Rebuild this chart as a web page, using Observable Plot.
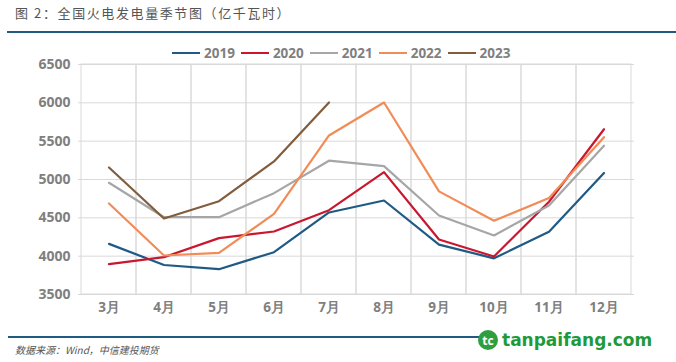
<!DOCTYPE html>
<html><head><meta charset="utf-8">
<script src="https://cdn.jsdelivr.net/npm/d3@7"></script>
<script src="https://cdn.jsdelivr.net/npm/@observablehq/plot@0.6"></script>
<style>
body{margin:0;background:#fff;}
#wrap{position:relative;width:676px;height:362px;overflow:hidden;font-family:"Open Sans","Noto Sans",sans-serif;}
#title{position:absolute;left:15px;top:3px;font-family:"Noto Sans CJK SC";font-size:13px;letter-spacing:1.6px;color:#555;}
#topline{position:absolute;left:7px;right:0;top:31px;height:2px;background:#1f5a80;}
#legend{position:absolute;left:172px;top:44px;display:flex;gap:6px;font-weight:700;font-size:13.5px;color:#7f7f7f;}
#legend span.item{display:flex;align-items:center;gap:4px;}
#legend span.sw{display:inline-block;width:28px;height:2.5px;}
#chart{position:absolute;left:0;top:0;}
#botline{position:absolute;left:8px;width:472px;top:336px;height:2px;background:#1f5a80;}
#source{position:absolute;left:15px;top:342px;font-family:"Noto Sans CJK SC";font-style:italic;font-size:10px;color:#555;}
#logo{position:absolute;left:478px;top:330px;display:flex;align-items:center;gap:4px;}
#logo .ic{width:20px;height:20px;border-radius:50%;background:#2e9e3f;color:#fff;font-weight:700;font-size:12px;display:flex;align-items:center;justify-content:center;}
#logo .tx{font-family:"DejaVu Sans","Open Sans",sans-serif;font-weight:700;font-size:17px;color:#1f9a3a;}
</style></head>
<body>
<div id="wrap">
  <div id="title">图 2：全国火电发电量季节图（亿千瓦时）</div>
  <div id="topline"></div>
  <div id="legend"></div>
  <div id="chart"></div>
  <div id="botline"></div>
  <div id="source">数据来源：Wind，中信建投期货</div>
  <div id="logo"><div class="ic">tc</div><div class="tx">tanpaifang.com</div></div>
</div>
<script>
const months = ["3月","4月","5月","6月","7月","8月","9月","10月","11月","12月"];
const years = ["2019","2020","2021","2022","2023"];
const colors = ["#1f5a85","#c8172f","#a6a6a6","#f28c57","#835c3b"];
const v2019 = [4160, 3885, 3830, 4052, 4570, 4726, 4150, 3972, 4317, 5085];
const v2020 = [3896, 3987, 4235, 4322, 4600, 5096, 4217, 3996, 4710, 5655];
const v2021 = [4957, 4508, 4508, 4822, 5245, 5174, 4530, 4270, 4661, 5440];
const v2022 = [4687, 4009, 4043, 4552, 5574, 6004, 4845, 4461, 4760, 5552];
const v2023 = [5157, 4491, 4717, 5236, 6004];
const yTicks = [3500, 4000, 4500, 5000, 5500, 6000, 6500];

const series = [v2019, v2020, v2021, v2022, v2023];
const data = [];
series.forEach((vals, i) => vals.forEach((v, j) => data.push({year: years[i], month: months[j], value: v})));

const leg = document.getElementById("legend");
years.forEach((y, i) => {
  const s = document.createElement("span"); s.className = "item";
  s.innerHTML = `<span class="sw" style="background:${colors[i]}"></span><span>${y}</span>`;
  leg.appendChild(s);
});

const plot = Plot.plot({
  width: 676, height: 362,
  marginTop: 64, marginBottom: 68, marginLeft: 78, marginRight: 42,
  style: {fontFamily: "'Open Sans', sans-serif", fontSize: "13.5px", fontWeight: 700, color: "#7f7f7f", background: "transparent"},
  x: {type: "band", domain: months, padding: 0, label: null, tickSize: 0, tickPadding: 8},
  y: {domain: [3500, 6500], ticks: yTicks, label: null, tickSize: 0, tickPadding: 8, tickFormat: d => String(d)},
  color: {domain: years, range: colors},
  marks: [
    Plot.cell(months, {x: d => d, fill: "none", stroke: "#d9d9d9", strokeWidth: 1}),
    Plot.ruleY(yTicks, {stroke: "#d9d9d9", strokeWidth: 1}),
    Plot.axisX({tickSize: 0, tickPadding: 8, fontSize: 13.5, fontWeight: 700, fill: "#7f7f7f", label: null}),
    Plot.axisY({ticks: yTicks, tickSize: 0, tickPadding: 8, fontSize: 14, fontWeight: 700, fill: "#7f7f7f", label: null, tickFormat: d => String(d)}),
    Plot.line(data, {x: "month", y: "value", z: "year", stroke: "year", strokeWidth: 2.2, curve: "linear"})
  ]
});
document.getElementById("chart").appendChild(plot);
</script>
</body></html>
